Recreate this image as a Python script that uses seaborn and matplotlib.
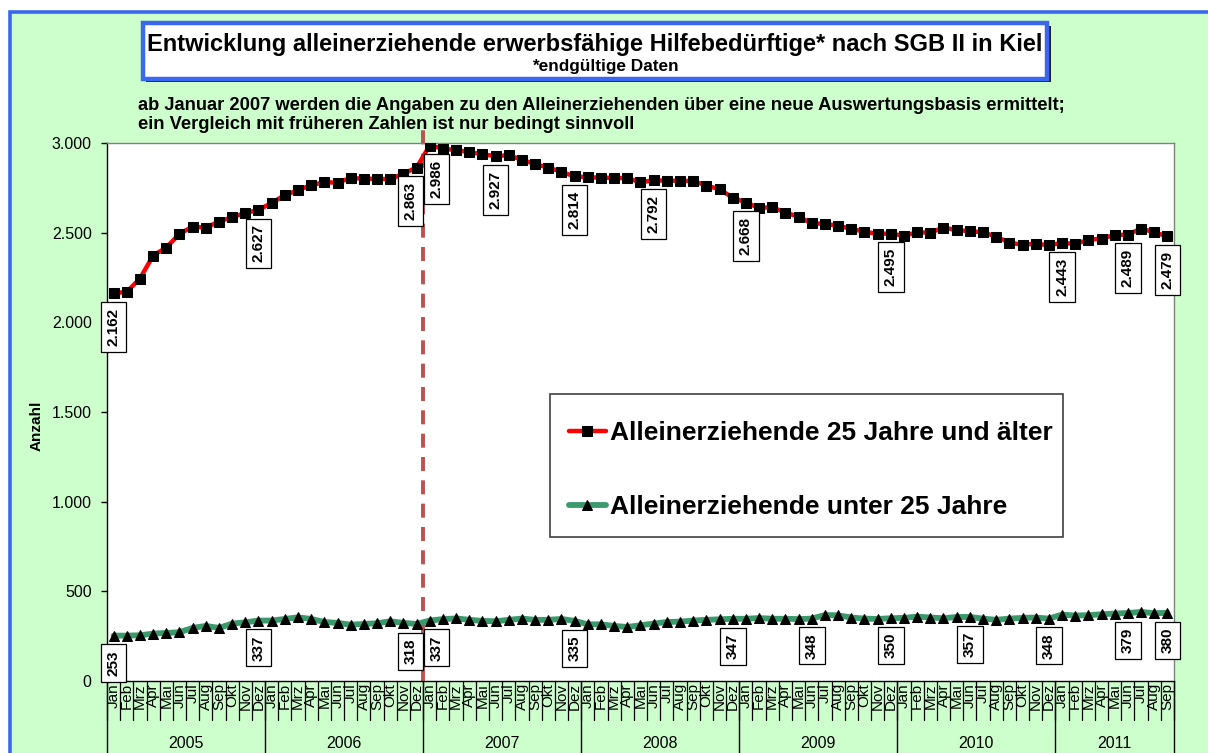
import numpy as np
import pandas as pd
import matplotlib
matplotlib.use("Agg")
import matplotlib.pyplot as plt
import matplotlib.transforms as mtransforms
from matplotlib.patches import Rectangle
from matplotlib.ticker import FuncFormatter
import seaborn as sns

# ---------------- data ----------------
months = ["Jan", "Feb", "Mrz", "Apr", "Mai", "Jun", "Jul", "Aug", "Sep", "Okt", "Nov", "Dez"]
years = ["2005", "2006", "2007", "2008", "2009", "2010", "2011"]
month_labels = months * 6 + months[:9]

ueber25 = [2162, 2170, 2244, 2372, 2417, 2493, 2534, 2528, 2562, 2586, 2610, 2627,
           2666, 2709, 2737, 2765, 2781, 2779, 2805, 2801, 2800, 2798, 2829, 2863,
           2986, 2969, 2960, 2950, 2937, 2927, 2932, 2906, 2882, 2863, 2839, 2814,
           2809, 2807, 2805, 2804, 2781, 2792, 2790, 2789, 2788, 2763, 2742, 2695,
           2668, 2638, 2642, 2612, 2589, 2552, 2549, 2539, 2521, 2506, 2493, 2495,
           2482, 2502, 2500, 2528, 2515, 2508, 2502, 2478, 2445, 2432, 2439, 2430,
           2443, 2437, 2460, 2467, 2487, 2489, 2523, 2502, 2479]

unter25 = [253, 253, 255, 264, 268, 272, 296, 307, 296, 320, 327, 337,
           337, 346, 355, 346, 329, 324, 314, 318, 322, 333, 324, 318,
           337, 345, 349, 341, 335, 333, 341, 348, 341, 341, 346, 335,
           316, 316, 307, 301, 311, 320, 329, 331, 337, 341, 344, 347,
           347, 351, 347, 347, 345, 348, 368, 366, 354, 348, 346, 350,
           352, 359, 354, 350, 357, 357, 348, 341, 348, 352, 354, 348,
           370, 365, 367, 372, 376, 379, 385, 378, 380]

label_idx_ueber25 = [0, 11, 23, 24, 29, 35, 41, 48, 59, 72, 77, 80]
label_idx_unter25 = [0, 11, 23, 24, 35, 47, 53, 59, 65, 71, 77, 80]

name_ueber25 = "Alleinerziehende 25 Jahre und älter"
name_unter25 = "Alleinerziehende unter 25 Jahre"

title = "Entwicklung alleinerziehende erwerbsfähige Hilfebedürftige* nach SGB II in Kiel"
subtitle = "*endgültige Daten"
note = ("ab Januar 2007 werden die Angaben zu den Alleinerziehenden über eine neue Auswertungsbasis ermittelt;\n"
        "ein Vergleich mit früheren Zahlen ist nur bedingt sinnvoll")

# ---------------- style ----------------
sns.set_theme(style="white")
plt.rcParams["font.family"] = ["Liberation Sans", "DejaVu Sans"]
plt.rcParams["text.color"] = "black"
plt.rcParams["axes.labelcolor"] = "black"
plt.rcParams["xtick.color"] = "black"
plt.rcParams["ytick.color"] = "black"

W, H = 1208, 753
fig = plt.figure(figsize=(W / 100, H / 100), dpi=100)
fig.patch.set_facecolor("white")


def fx(px):
    return px / W


def fy(py):
    return 1 - py / H


# green background with blue frame (left + top)
bg = Rectangle((fx(9.5), -0.2), 1.2, fy(11.5) + 0.2, transform=fig.transFigure,
               facecolor="#CCFFCC", edgecolor="#3A66F0", linewidth=2.6, zorder=-10)
fig.patches.append(bg)

# title box with shadow
shadow = Rectangle((fx(146), fy(82)), fx(1051) - fx(146), fy(26) - fy(82),
                   transform=fig.transFigure, facecolor="#222222", edgecolor="none", zorder=1)
box = Rectangle((fx(143), fy(79)), fx(1047) - fx(143), fy(23) - fy(79),
                transform=fig.transFigure, facecolor="white", edgecolor="#3A66F0",
                linewidth=3.2, zorder=2)
fig.patches.extend([shadow, box])
fig.text(fx(595), fy(44), title, ha="center", va="center", fontsize=17,
         fontweight="bold", zorder=3)
fig.text(fx(605), fy(67), subtitle, ha="center", va="center", fontsize=12.4,
         fontweight="bold", zorder=3)
fig.text(fx(138), fy(115), note, ha="left", va="center", fontsize=13.2,
         fontweight="bold", linespacing=1.15)

# axes
ax = fig.add_axes([fx(107), fy(681), fx(1174) - fx(107), fy(143) - fy(681)])
ax.set_facecolor("white")

x = np.arange(len(ueber25))
df_a = pd.DataFrame({"idx": x, "val": ueber25})
df_b = pd.DataFrame({"idx": x, "val": unter25})

sns.lineplot(data=df_a, x="idx", y="val", ax=ax, color="#FF0000", linewidth=3.2,
             marker="s", markersize=7.2, markerfacecolor="black", markeredgecolor="black",
             label=name_ueber25, zorder=4)
sns.lineplot(data=df_b, x="idx", y="val", ax=ax, color="#3A9A6C", linewidth=4.2,
             marker="^", markersize=7.8, markerfacecolor="black", markeredgecolor="black",
             label=name_unter25, zorder=4)

ax.set_xlim(-0.5, len(x) - 0.5)
ax.set_ylim(0, 3000)
ax.set_yticks(range(0, 3001, 500))
ax.yaxis.set_major_formatter(FuncFormatter(lambda v, p: f"{int(v):,}".replace(",", ".")))
ax.tick_params(axis="y", left=True, length=4.5, width=1, color="black", pad=6.5,
               labelsize=11.5, labelcolor="black")
ax.set_xticks(x)
ax.set_xticklabels(month_labels, rotation=90, fontsize=11)
ax.tick_params(axis="x", bottom=False, length=0, pad=1.5, labelcolor="black")
ax.set_xlabel("")
ax.set_ylabel("Anzahl", fontsize=11, fontweight="bold", color="black")
ax.yaxis.set_label_coords(-0.059, 0.474)

for s in ["left", "bottom"]:
    ax.spines[s].set_color("black")
    ax.spines[s].set_linewidth(1)
for s in ["top", "right"]:
    ax.spines[s].set_color("#808080")
    ax.spines[s].set_linewidth(1)

trans = mtransforms.blended_transform_factory(ax.transData, ax.transAxes)
# month separators
for b in np.arange(-0.5, len(x), 1.0):
    ax.plot([b, b], [0, -0.0725], transform=trans, color="black", lw=0.9, clip_on=False)
# year separators and labels
bounds = [-0.5] + [12 * k - 0.5 for k in range(1, 7)] + [len(x) - 0.5]
for b in bounds:
    ax.plot([b, b], [0, -0.2], transform=trans, color="black", lw=1.0, clip_on=False)
for k, yr in enumerate(years):
    c = (bounds[k] + bounds[k + 1]) / 2
    ax.text(c, -0.116, yr, transform=trans, ha="center", va="center", fontsize=11.5)

# dashed separator line (Jan 2007)
ax.plot([23.5, 23.5], [0, 1.03], transform=trans, color="#C0504D", lw=2.8,
        dashes=(3.6, 2.4), clip_on=False, zorder=2)

# data labels
def fmt(v):
    return f"{v:,}".replace(",", ".")


shift = {23: -4.5, 24: 5}
for series, idxs in [(ueber25, label_idx_ueber25), (unter25, label_idx_unter25)]:
    for i in idxs:
        ax.annotate(fmt(series[i]), xy=(i, series[i]), xytext=(shift.get(i, 0), -10.5),
                    textcoords="offset points", rotation=90, ha="center", va="top",
                    fontsize=11, fontweight="bold", zorder=5,
                    bbox=dict(boxstyle="square,pad=0.38", fc="white", ec="black", lw=0.9))

# legend: separate frame + frameless legend
frame = Rectangle((fx(550), fy(537)), fx(1063) - fx(550), fy(394) - fy(537),
                  transform=fig.transFigure, facecolor="white", edgecolor="#404040",
                  linewidth=1.2, zorder=6)
ax.add_patch(frame)
frame.set_clip_on(False)
leg = ax.legend(loc="center left", bbox_to_anchor=(fx(569), fy(470)),
                bbox_transform=fig.transFigure, borderaxespad=0, frameon=False,
                prop={"size": 19, "weight": "bold"}, handlelength=1.4,
                handletextpad=0.15, borderpad=0, labelspacing=1.9)
leg.set_zorder(7)

fig.savefig("out.png", dpi=100, facecolor=fig.get_facecolor())
